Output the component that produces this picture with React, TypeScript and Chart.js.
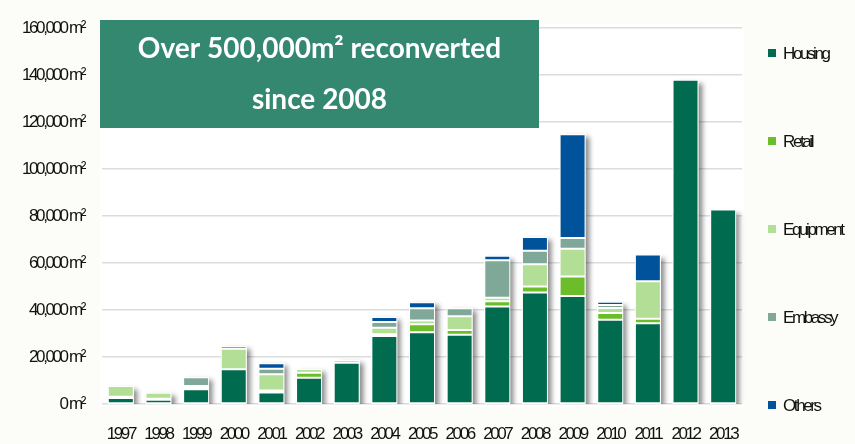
import React, { useEffect, useRef } from "react";
import { Chart, registerables } from "chart.js";

Chart.register(...registerables);

const years = ["1997", "1998", "1999", "2000", "2001", "2002", "2003", "2004", "2005", "2006", "2007", "2008", "2009", "2010", "2011", "2012", "2013"];
const housing = [2600, 1800, 6300, 14800, 4900, 11200, 17600, 28900, 30600, 29500, 41500, 47500, 46000, 35900, 34400, 138000, 82800];
const retail = [500, 400, 700, null, 800, 2100, null, 800, 3400, 2000, 2200, 2500, 8300, 2800, 1900, null, null];
const equipment = [4600, 2600, 700, 8700, 7000, 1600, 1100, 2800, 1600, 5900, 1500, 9500, 11800, 2200, 16000, null, null];
const embassy = [null, null, 3700, null, 2300, null, null, 2400, 5200, 3400, 16000, 5700, 4600, 1300, null, null, null];
const others = [null, null, null, 1100, 2400, null, null, 2100, 2500, null, 1900, 5900, 44200, 1300, 11300, null, null];

const seriesNames = ["Housing", "Retail", "Equipment", "Embassy", "Others"];
const seriesColors = ["#006b4e", "#6bbd2a", "#b3de96", "#80a898", "#00529b"];
const titleLines = ["Over 500,000m\u00b2 reconverted", "since 2008"];

const FONT = "'Liberation Sans', Arial, sans-serif";
const SPACING = "-2.4px";

const backgroundPlugin = {
  id: "bg",
  beforeDraw(chart: any) {
    const { ctx, chartArea: a } = chart;
    ctx.save();
    ctx.fillStyle = "#fcfcf8";
    ctx.fillRect(0, 0, chart.width, chart.height);
    ctx.fillStyle = "#ffffff";
    ctx.fillRect(a.left - 2, a.top - 4, a.right - a.left + 4, a.bottom - a.top + 7);
    ctx.restore();
    (ctx as any).letterSpacing = SPACING;
  },
};

const shadowPlugin = {
  id: "barShadow",
  beforeDatasetsDraw(chart: any) {
    const { ctx, chartArea: a } = chart;
    const yScale = chart.scales.y;
    const base = yScale.getPixelForValue(0);
    ctx.save();
    ctx.beginPath();
    ctx.rect(a.left, a.top - 10, a.right - a.left + 20, a.bottom - a.top + 10);
    ctx.clip();
    const n = chart.data.labels.length;
    for (let i = 0; i < n; i++) {
      let top = base;
      let x = 0;
      let w = 0;
      chart.data.datasets.forEach((ds: any, di: number) => {
        const v = ds.data[i];
        const el = chart.getDatasetMeta(di).data[i] as any;
        if (v != null && el) {
          top = Math.min(top, el.y);
          x = el.x;
          w = el.width;
        }
      });
      if (w > 0) {
        ctx.shadowColor = "rgba(0,0,0,0.45)";
        ctx.shadowBlur = 5;
        ctx.shadowOffsetX = 4;
        ctx.shadowOffsetY = 3;
        ctx.fillStyle = "#ffffff";
        ctx.fillRect(x - w / 2, top, w, base - top);
      }
    }
    ctx.restore();
  },
};

const overlayPlugin = {
  id: "overlay",
  afterDraw(chart: any) {
    const { ctx, chartArea: a } = chart;
    ctx.save();
    // title box
    const bx = a.left - 2;
    const by = 20;
    const bw = 439;
    const bh = 108;
    (ctx as any).letterSpacing = "0px";
    ctx.fillStyle = "rgb(52,136,112)";
    ctx.fillRect(bx, by, bw, bh);
    ctx.fillStyle = "#ffffff";
    ctx.font = "bold 28px Lato, 'Open Sans', sans-serif";
    ctx.textAlign = "center";
    ctx.textBaseline = "middle";
    ctx.fillText(titleLines[0], bx + bw / 2, by + 29);
    ctx.fillText(titleLines[1], bx + bw / 2, by + 80);

    // legend
    (ctx as any).letterSpacing = SPACING;
    ctx.font = "17px " + FONT;
    ctx.textAlign = "left";
    ctx.textBaseline = "middle";
    chart.data.datasets.forEach((ds: any, i: number) => {
      const cy = 53 + i * 88;
      ctx.fillStyle = ds.backgroundColor;
      ctx.fillRect(768, cy - 4, 8, 8);
      ctx.fillStyle = "#111111";
      ctx.fillText(ds.label, 783, cy + 1);
    });
    ctx.restore();
    (ctx as any).letterSpacing = "0px";
  },
};

export default function App() {
  const ref = useRef<HTMLCanvasElement | null>(null);

  useEffect(() => {
    if (!ref.current) return;
    const values = [housing, retail, equipment, embassy, others];
    const chart = new Chart(ref.current, {
      type: "bar",
      data: {
        labels: years,
        datasets: seriesNames.map((name, i) => ({
          label: name,
          data: values[i] as any,
          backgroundColor: seriesColors[i],
          borderColor: "#ffffff",
          borderWidth: 1,
          borderSkipped: false,
          categoryPercentage: 0.69,
          barPercentage: 1,
        })),
      },
      options: {
        animation: false,
        responsive: false,
        devicePixelRatio: 1,
        layout: { padding: { top: 24, right: 113, left: 0, bottom: 0 } },
        plugins: {
          legend: { display: false },
          tooltip: { enabled: false },
        },
        scales: {
          x: {
            stacked: true,
            grid: { display: false, drawTicks: false },
            border: { display: false },
            ticks: {
              color: "#111111",
              font: { family: FONT, size: 17 },
              padding: 20,
              maxRotation: 0,
              autoSkip: false,
            },
            afterFit: (s: any) => {
              s.height = 40;
            },
          },
          y: {
            stacked: true,
            min: 0,
            max: 160000,
            grid: { color: "#dcdcdc", lineWidth: 1.5, drawTicks: false },
            border: { display: false },
            ticks: {
              stepSize: 20000,
              color: "#111111",
              font: { family: FONT, size: 17 },
              padding: 18,
              callback: (v: any) => Number(v).toLocaleString("en-US") + " m\u00b2",
            },
            afterFit: (s: any) => {
              s.width = 102;
            },
          },
        },
      },
      plugins: [backgroundPlugin, shadowPlugin, overlayPlugin],
    });
    return () => chart.destroy();
  }, []);

  return (
    <div style={{ position: "fixed", left: 0, top: 0, width: 855, height: 444 }}>
      <canvas ref={ref} width={855} height={444} style={{ display: "block" }} />
    </div>
  );
}
